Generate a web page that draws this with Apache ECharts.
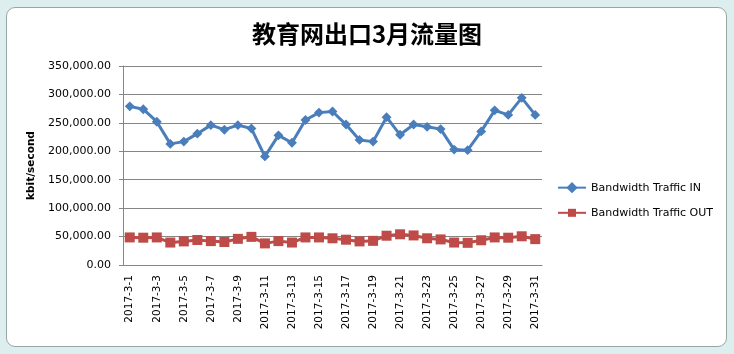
<!DOCTYPE html>
<html>
<head>
<meta charset="utf-8">
<script src="https://cdn.jsdelivr.net/npm/echarts@6/dist/echarts.min.js"></script>
<style>
  html, body { margin: 0; padding: 0; }
  body { width: 734px; height: 354px; background: #dceeee; position: relative; overflow: hidden; }
  #frame {
    position: absolute; left: 6px; top: 7px; width: 719px; height: 338px;
    background: #fff; border: 1px solid #9aa6a6; border-radius: 9px;
  }
  #chart { position: absolute; left: 0; top: 0; width: 734px; height: 354px; }
</style>
</head>
<body>
<div id="frame"></div>
<div id="chart"></div>
<script>
// 2017年3月 每日带宽 (kbit/second)
var days = [
  '2017-3-1', '2017-3-2', '2017-3-3', '2017-3-4', '2017-3-5', '2017-3-6', '2017-3-7', '2017-3-8',
  '2017-3-9', '2017-3-10', '2017-3-11', '2017-3-12', '2017-3-13', '2017-3-14', '2017-3-15', '2017-3-16',
  '2017-3-17', '2017-3-18', '2017-3-19', '2017-3-20', '2017-3-21', '2017-3-22', '2017-3-23', '2017-3-24',
  '2017-3-25', '2017-3-26', '2017-3-27', '2017-3-28', '2017-3-29', '2017-3-30', '2017-3-31'
]
var trafficIn = [
  279000, 274000, 252000, 213000, 217000, 231000, 246000, 238000,
  246000, 240000, 191000, 228000, 215000, 255000, 268000, 270000,
  247000, 220000, 217000, 260000, 229000, 247000, 243000, 239000,
  203000, 202000, 235000, 272000, 264000, 294000, 264000
]
var trafficOut = [
  48500, 48000, 48500, 39500, 41500, 44000, 42000, 40500,
  46000, 49500, 38000, 42000, 39500, 48500, 48500, 47000,
  44500, 41500, 42500, 51500, 54000, 52000, 47000, 45000,
  39500, 39000, 43500, 48500, 48000, 50500, 45500
]

function fmtNum(v) {
  return v.toFixed(2).replace(/\B(?=(\d{3})+(?!\d))/g, ',')
}

var chart = echarts.init(document.getElementById('chart'))
chart.setOption({
  animation: false,
  textStyle: { fontFamily: 'DejaVu Sans' },
  title: {
    text: '教育网出口3月流量图',
    left: 'center',
    top: 17,
    textStyle: {
      fontFamily: 'Noto Sans CJK SC',
      fontSize: 24,
      fontWeight: 'bold',
      color: '#000'
    }
  },
  legend: {
    orient: 'vertical',
    left: 552,
    top: 177,
    itemWidth: 28,
    itemHeight: 10,
    itemGap: 14,
    textStyle: { fontSize: 11, color: '#000', fontFamily: 'DejaVu Sans' },
    data: ['Bandwidth Traffic IN', 'Bandwidth Traffic OUT']
  },
  grid: {
    left: 123,
    right: 192,
    top: 66,
    bottom: 89
  },
  xAxis: {
    type: 'category',
    data: days,
    boundaryGap: true,
    axisLine: { lineStyle: { color: '#868686' } },
    axisTick: { show: false },
    axisLabel: {
      interval: 1,
      rotate: 90,
      margin: 10,
      fontSize: 10.5,
      color: '#000'
    }
  },
  yAxis: {
    type: 'value',
    min: 0,
    max: 350000,
    interval: 50000,
    name: 'kbit/second',
    nameLocation: 'middle',
    nameGap: 84,
    nameTextStyle: { fontSize: 10.5, fontWeight: 'bold', color: '#000' },
    axisLine: { show: true, lineStyle: { color: '#868686' } },
    axisTick: { show: true, length: 4, lineStyle: { color: '#868686' } },
    splitLine: { lineStyle: { color: '#868686', width: 1 } },
    axisLabel: {
      margin: 12,
      fontSize: 11,
      color: '#000',
      formatter: fmtNum
    }
  },
  series: [
    {
      name: 'Bandwidth Traffic IN',
      type: 'line',
      data: trafficIn,
      symbol: 'rect',
      symbolSize: 7,
      symbolRotate: 45,
      showAllSymbol: true,
      lineStyle: { color: '#4a7ebb', width: 3 },
      itemStyle: { color: '#4a7ebb' }
    },
    {
      name: 'Bandwidth Traffic OUT',
      type: 'line',
      data: trafficOut,
      symbol: 'rect',
      symbolSize: 10,
      showAllSymbol: true,
      lineStyle: { color: '#be4b48', width: 3 },
      itemStyle: { color: '#be4b48' }
    }
  ]
})
</script>
</body>
</html>
